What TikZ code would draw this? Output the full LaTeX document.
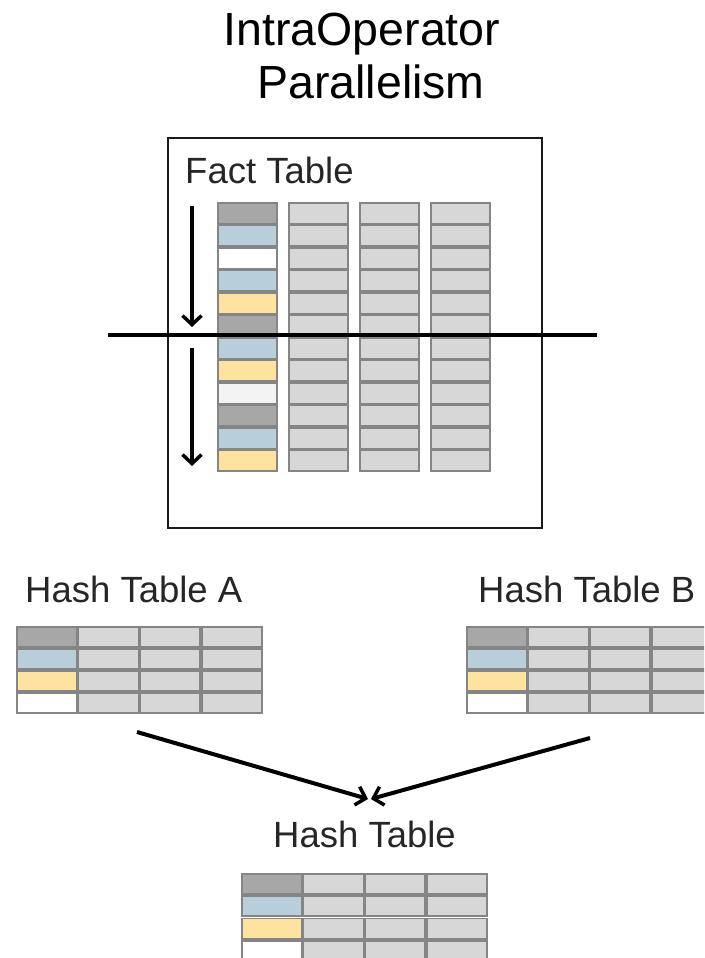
\documentclass[tikz,border=0pt]{standalone}
\usepackage{fontspec}
\setmainfont{Liberation Sans}
\usetikzlibrary{arrows.meta}
\definecolor{cellgray}{HTML}{D7D7D7}
\definecolor{cellborder}{HTML}{858585}
\definecolor{darkcell}{HTML}{A7A7A7}
\definecolor{bluecell}{HTML}{B8CEDB}
\definecolor{yellowcell}{HTML}{FEE3A0}
\definecolor{palecell}{HTML}{F3F3F3}
\definecolor{framecol}{HTML}{1A1A1A}
\begin{document}
\begin{tikzpicture}[x=1pt,y=-1pt,
  cell/.style={draw=cellborder, line width=1.8pt, fill=cellgray, rectangle,
    inner sep=0pt, anchor=north west, minimum width=59.2pt, minimum height=20.7pt},
  hcell/.style={cell, minimum width=59.9pt, minimum height=20.2pt},
  lbl/.style={inner sep=0pt, anchor=base west, text=black!85, font=\fontsize{36.5}{40}\selectfont},
  ttl/.style={inner sep=0pt, anchor=base, font=\fontsize{46.5}{52}\selectfont},
  flow/.style={-{Straight Barb[length=9pt,width=19pt,line width=3.5pt]}, line width=4pt, black}
]
\useasboundingbox (0,0) rectangle (704,958);
\clip (0,0) rectangle (704,958);

% title
\node[ttl] (t1) at (362,46) {IntraOperator};
\node[ttl] (t2) at (371,98) {Parallelism};

% fact table frame
\node[draw=framecol, line width=2.5pt, anchor=north west, inner sep=0pt,
  minimum width=374pt, minimum height=390pt] (frame) at (166.5,136.5) {};
\node[lbl] (ft) at (185,183) {Fact Table};

% fact table cells
\foreach \r/\col in {0/darkcell,1/bluecell,2/white,3/bluecell,4/yellowcell,5/darkcell,
                     6/bluecell,7/yellowcell,8/palecell,9/darkcell,10/bluecell,11/yellowcell}{
  \node[cell, fill=\col] (f-\r-0) at (216.9, 201.9+22.5*\r) {};
  \foreach \c/\x in {1/287,2/358,3/429}{
    \node[cell] (f-\r-\c) at (\x+0.9, 201.9+22.5*\r) {};
  }
}

% split line
\coordinate (sl) at (108,335);
\coordinate (sr) at (597,335);
\draw[line width=4pt, black] (sl) -- (sr);

% scan arrows
\coordinate (a1s) at (192,206);
\coordinate (a1e) at (192,327);
\coordinate (a2s) at (192,348);
\coordinate (a2e) at (192,466);
\draw[flow] (a1s) -- (a1e);
\draw[flow] (a2s) -- (a2e);

% hash table A
\node[lbl] (ha) at (25,602) {Hash Table A};
\foreach \r/\col in {0/darkcell,1/bluecell,2/yellowcell,3/white}{
  \node[hcell, fill=\col] (a-\r-0) at (15.9, 625.9+22*\r) {};
  \foreach \c in {1,2,3}{
    \node[hcell] (a-\r-\c) at (15.9+61.75*\c, 625.9+22*\r) {};
  }
}

% hash table B
\node[lbl] (hb) at (478,602) {Hash Table B};
\foreach \r/\col in {0/darkcell,1/bluecell,2/yellowcell,3/white}{
  \node[hcell, fill=\col] (b-\r-0) at (465.9, 625.9+22*\r) {};
  \foreach \c in {1,2,3}{
    \node[hcell] (b-\r-\c) at (465.9+61.75*\c, 625.9+22*\r) {};
  }
}

% merge arrows
\coordinate (ma) at (137,732);
\coordinate (mb) at (590,738);
\coordinate (mt1) at (368,799);
\coordinate (mt2) at (371,799);
\draw[flow] (ma) -- (mt1);
\draw[flow] (mb) -- (mt2);

% result hash table
\node[lbl] (hr) at (273,847) {Hash Table};
\foreach \r/\col in {0/darkcell,1/bluecell,2/yellowcell,3/white}{
  \node[hcell, fill=\col] (r-\r-0) at (240.9, 872.9+22.3*\r) {};
  \foreach \c in {1,2,3}{
    \node[hcell] (r-\r-\c) at (240.9+61.75*\c, 872.9+22.3*\r) {};
  }
}
\end{tikzpicture}
\end{document}
